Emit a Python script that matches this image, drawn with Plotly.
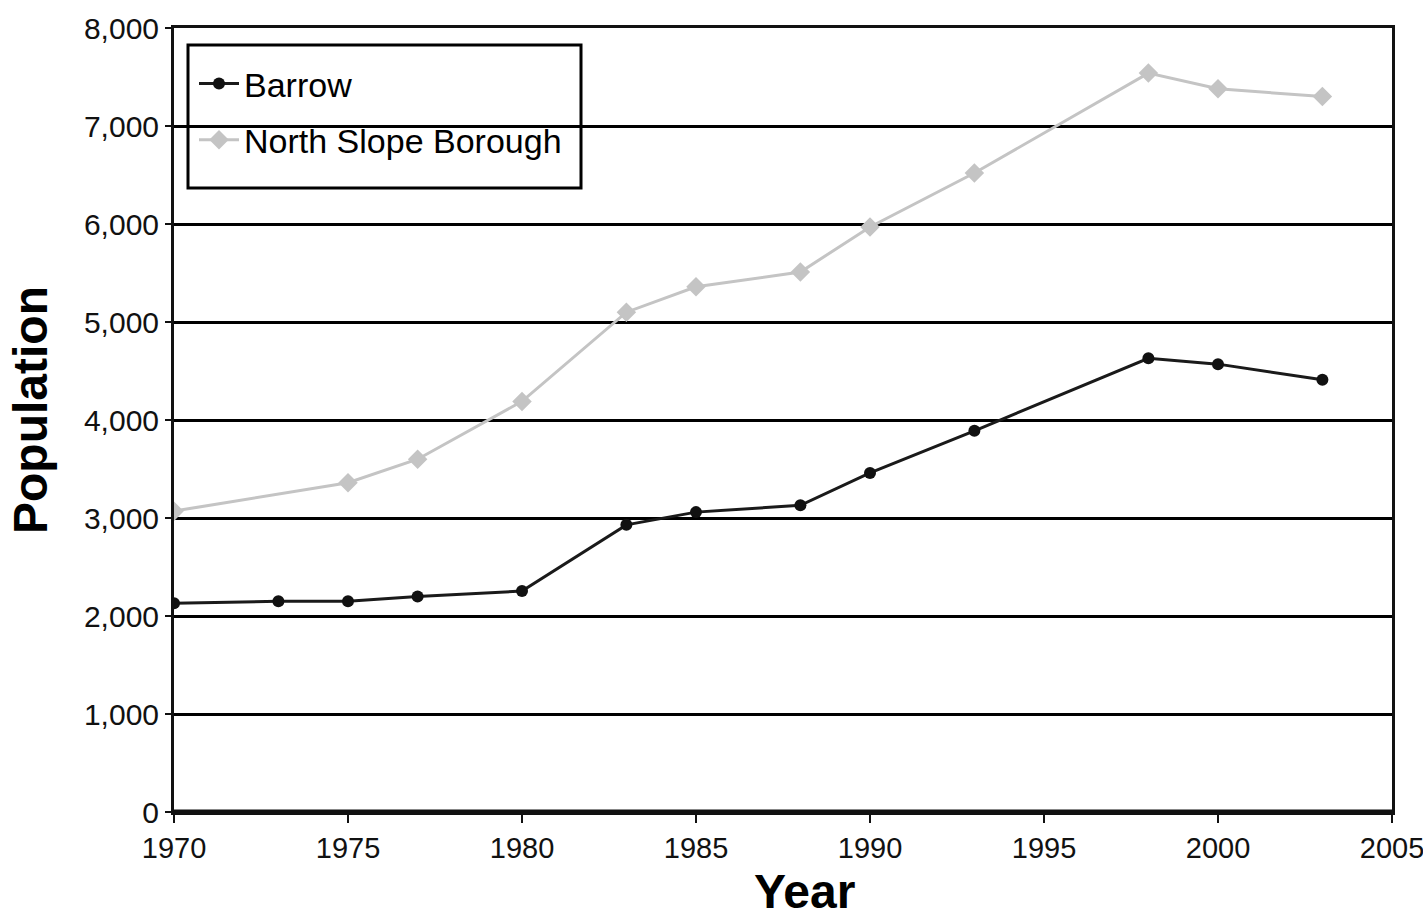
import plotly.graph_objects as go

years_barrow = [1970, 1973, 1975, 1977, 1980, 1983, 1985, 1988, 1990, 1993, 1998, 2000, 2003]
barrow = [2130, 2150, 2150, 2200, 2255, 2930, 3060, 3130, 3460, 3890, 4630, 4570, 4410]

years_nsb = [1970, 1975, 1977, 1980, 1983, 1985, 1988, 1990, 1993, 1998, 2000, 2003]
nsb = [3070, 3360, 3600, 4190, 5100, 5360, 5510, 5970, 6520, 7540, 7380, 7300]

x_ticks = [1970, 1975, 1980, 1985, 1990, 1995, 2000, 2005]
y_ticks = [0, 1000, 2000, 3000, 4000, 5000, 6000, 7000, 8000]

FONT = "Liberation Sans, Arial, sans-serif"

W, H = 1423, 922
PL, PR, PT, PB = 174, 1392, 28, 812   # plot area in pixels
L, T, R, B = PL, PT, W - PR, H - PB
pw = PR - PL
ph = PB - PT

def sx(px):
    return (px - PL) / pw

def sy(py):
    return (PB - py) / ph

fig = go.Figure()
fig.add_trace(go.Scatter(
    x=years_barrow, y=barrow, name="Barrow", mode="lines+markers",
    line=dict(color="#1a1a1a", width=3),
    marker=dict(symbol="circle", size=12, color="#111111"),
    legendgroup="a",
))
fig.add_trace(go.Scatter(
    x=years_nsb, y=nsb, name="North Slope Borough", mode="lines+markers",
    line=dict(color="#c4c4c4", width=3),
    marker=dict(symbol="diamond", size=15, color="#c4c4c4"),
    legendgroup="b",
))

fig.update_layout(
    width=W, height=H,
    margin=dict(l=L, r=R, t=T, b=B, autoexpand=False),
    paper_bgcolor="white", plot_bgcolor="white",
    font=dict(family=FONT, color="#000000"),
    showlegend=True,
    legend=dict(
        x=sx(194), y=sy(55), xanchor="left", yanchor="top",
        bgcolor="rgba(0,0,0,0)", borderwidth=0,
        font=dict(size=34, family=FONT, color="#000000"),
        tracegroupgap=9, itemwidth=40,
    ),
    xaxis=dict(
        range=[1970, 2005], tickvals=x_ticks, ticktext=[str(v) for v in x_ticks],
        showgrid=False, zeroline=False,
        showline=True, mirror=True, linecolor="#111111", linewidth=3,
        ticks="outside", ticklen=8, tickwidth=2, tickcolor="#111111",
        tickfont=dict(size=29, family=FONT, color="#111111"),
        ticklabeloverflow="allow",
    ),
    yaxis=dict(
        range=[0, 8000], tickvals=y_ticks, tickformat=",",
        showgrid=True, gridcolor="#000000", gridwidth=3,
        zeroline=False,
        showline=True, mirror=True, linecolor="#111111", linewidth=3,
        ticks="outside", ticklen=6, tickwidth=2, tickcolor="#111111",
        tickfont=dict(size=30, family=FONT, color="#111111"),
    ),
    shapes=[
        dict(type="line", xref="paper", yref="paper", x0=0, x1=1, y0=0, y1=0,
             line=dict(color="#111111", width=5)),
        dict(type="rect", xref="paper", yref="paper",
             x0=sx(188), x1=sx(581), y0=sy(188), y1=sy(45),
             line=dict(color="#000000", width=3), fillcolor="rgba(0,0,0,0)", layer="above"),
    ],
    annotations=[
        dict(text="<b>Year</b>", xref="paper", yref="paper",
             x=sx(804), y=sy(892), xanchor="center", yanchor="middle",
             showarrow=False, font=dict(size=48, family=FONT, color="#000000")),
        dict(text="<b>Population</b>", xref="paper", yref="paper",
             x=sx(30), y=sy(410), xanchor="center", yanchor="middle",
             textangle=-90, showarrow=False, font=dict(size=48, family=FONT, color="#000000")),
    ],
)

fig.write_html("out.html",
               config={"displayModeBar": False},
               post_script="document.body.style.margin='0px';document.body.style.overflow='hidden';")
